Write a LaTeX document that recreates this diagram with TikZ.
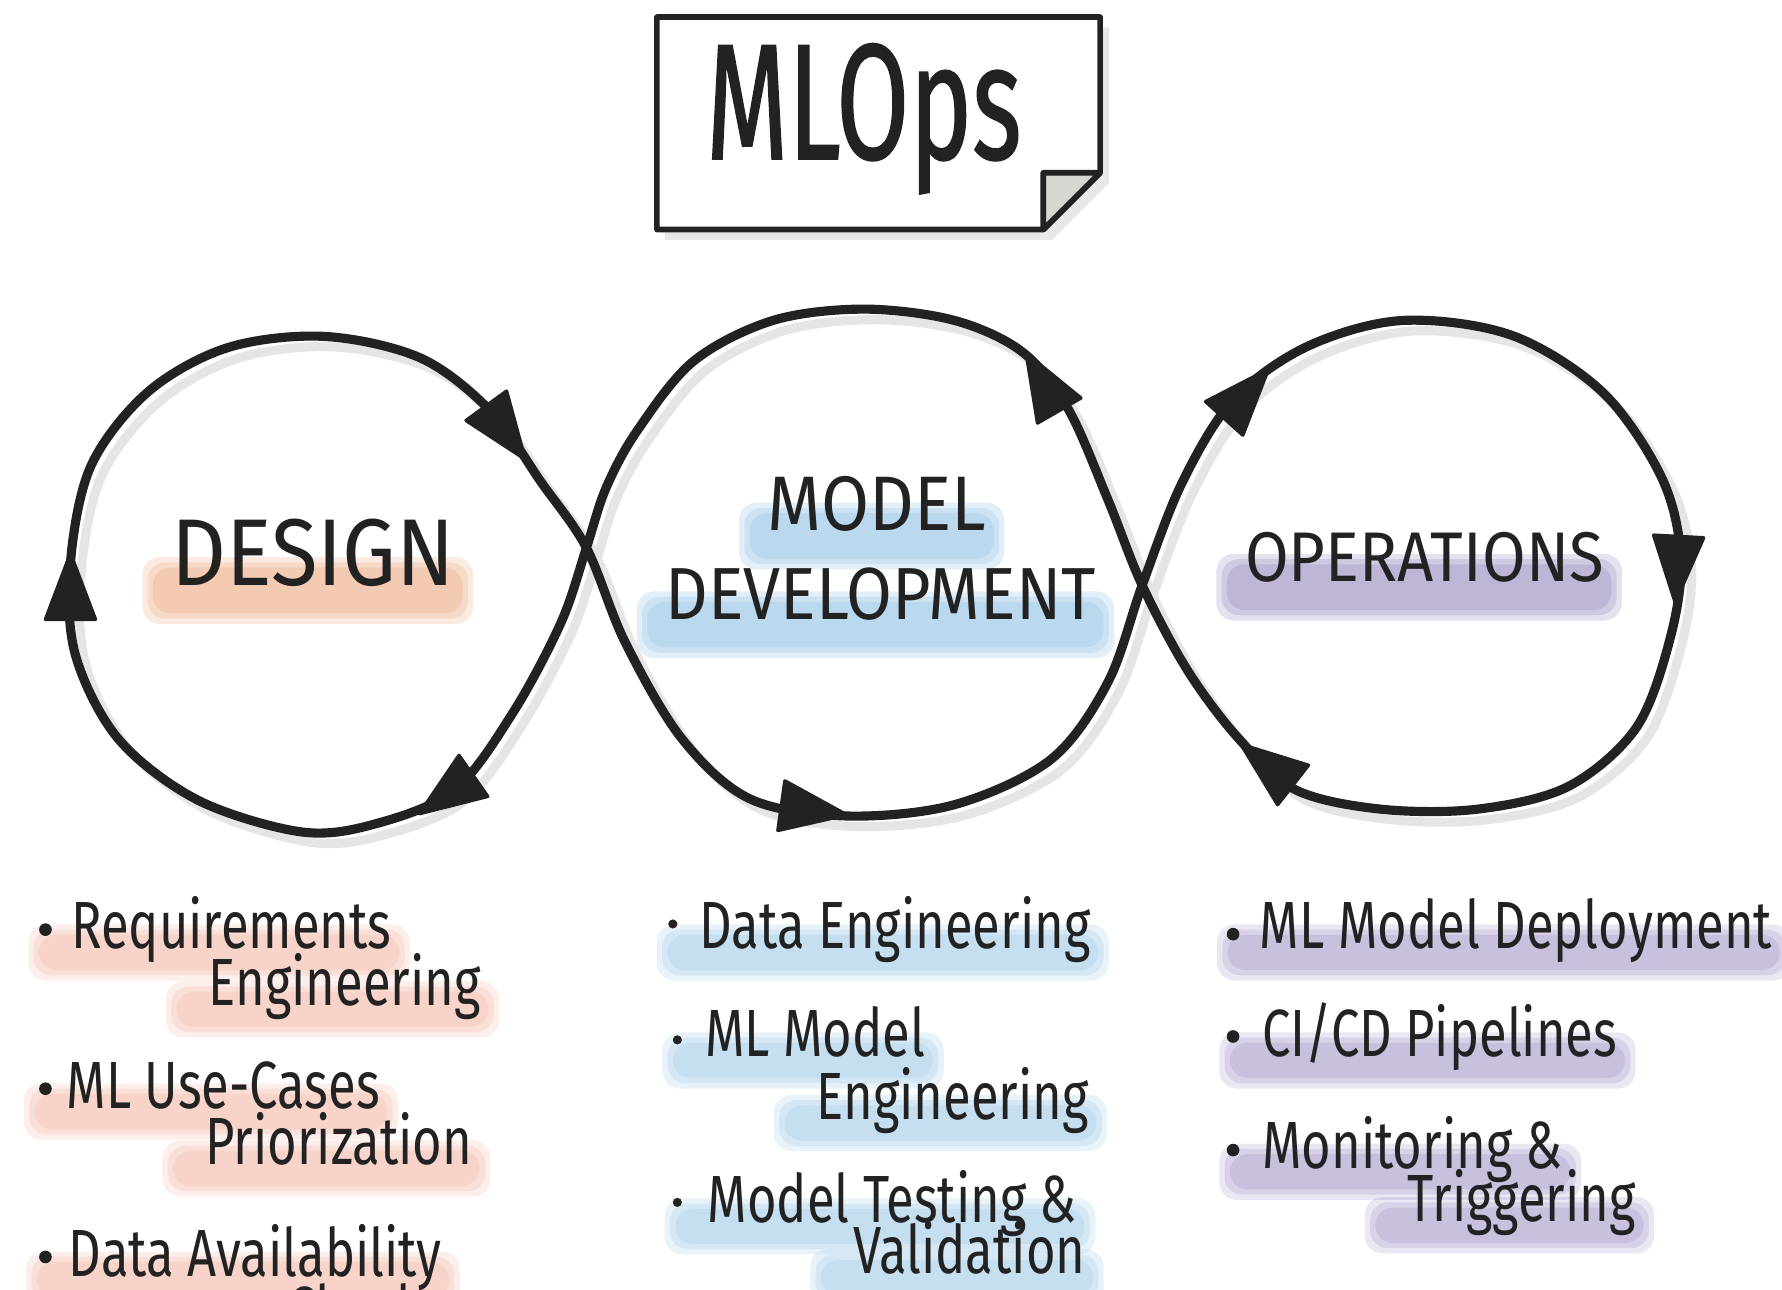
\documentclass[tikz,border=0pt]{standalone}
\usepackage{fontspec}
\setmainfont{Fira Sans}
\newfontfamily\handfont{Fira Sans}[FakeStretch=0.76]
\newfontfamily\capsfont{Fira Sans}[FakeStretch=0.9]
\newfontfamily\titlefont{Fira Sans}[FakeStretch=0.64, FakeBold=0.8]
\usetikzlibrary{backgrounds}

\definecolor{ink}{RGB}{34,34,34}
\definecolor{hlred}{RGB}{240,150,125}
\definecolor{hlorange}{RGB}{234,150,100}
\definecolor{hlblue}{RGB}{115,178,222}
\definecolor{hlpurple}{RGB}{125,105,175}
\definecolor{foldgray}{RGB}{214,214,210}

\tikzset{
  item/.style={anchor=base west, inner sep=0pt, text=ink, font=\handfont\fontsize{19}{22}\selectfont},
  head/.style={anchor=base west, inner sep=0pt, text=ink, font=\capsfont\fontsize{20}{24}\selectfont},
  loopline/.style={line width=2.6pt, line join=round, line cap=round},
}

\begin{document}
\begin{tikzpicture}[x=0.011365cm, y=-0.011365cm]
  \useasboundingbox (0,0) rectangle (1568,1135);
  % title card
  \fill[black!9] (585,24) -- (976,24) -- (976,161) -- (926,211) -- (585,211) -- cycle;
  \draw[ink, fill=white, line width=1.6pt, line join=round] (578,15) -- (968,15) -- (968,152) -- (918,202) -- (578,202) -- cycle;
  \filldraw[ink, fill=foldgray, line width=1.6pt, line join=round] (918,152) -- (968,152) -- (918,202) -- cycle;
  \node[text=ink, inner sep=0pt, anchor=base, font=\titlefont\fontsize{47}{50}\selectfont] (title) at (760,140) {MLOps};

  % figure of eight (shadow first)
  \foreach \c/\s in {black!10/3, ink/0}{
    \draw[loopline, draw=\c, xshift=\s pt, yshift=-\s pt] plot[smooth cycle, tension=0.55] coordinates {
      (516,482) (550,565) (600,650) (660,703) (745,718) (840,708) (925,668) (975,600)
      (1005,515) (1040,425) (1085,352) (1150,305) (1234,282) (1330,295) (1410,345) (1462,420)
      (1479,490) (1470,560) (1440,640) (1380,692) (1300,712) (1215,712) (1140,695) (1090,650) (1045,590)
      (1005,515) (975,440) (940,360) (900,310) (840,282) (760,272) (680,282) (610,318) (560,380) (533,430)
      (516,482) (494,547) (452,626) (400,695) (330,725) (265,732) (174,704) (104,650) (66,575)
      (62,495) (80,410) (130,345) (200,306) (285,296) (370,315) (432,362) (476,424)};
  }
  % arrow heads
  \foreach \x/\y/\a in {462/404/-54, 745/717/-8, 1116/325/48, 1474/530/-93,
                        1092/655/142, 903/311/120, 369/716/-145, 62/487/90}{
    \filldraw[ink, line width=1pt, line join=round, rotate around={\a:(\x,\y)}]
      (\x,\y) -- ++(-58,-22) -- ++(0,44) -- cycle;
  }

  % headings
  \node[head, font=\capsfont\fontsize{27}{30}\selectfont] (design) at (150,515) {DESIGN};
  \node[head, font=\capsfont\fontsize{22}{24}\selectfont] (model) at (675,467) {MODEL};
  \node[head, font=\capsfont\fontsize{21}{24}\selectfont] (devel) at (585,545) {DEVELOPMENT};
  \node[head] (ops) at (1095,512) {OPERATIONS};

  % design items
  \node[item] (req) at (62,835) {Requirements};
  \node[item] (reqb) at (183,885) {Engineering};
  \node[item] (usec) at (58,975) {ML Use-Cases};
  \node[item] (usecb) at (180,1025) {Priorization};
  \node[item] (avail) at (60,1123) {Data Availability};
  \node[item] (availb) at (252,1173) {Check};
  % model development items
  \node[item] (deng) at (615,835) {Data Engineering};
  \node[item] (mlm) at (620,930) {ML Model};
  \node[item] (mlmb) at (718,985) {Engineering};
  \node[item] (test) at (622,1076) {Model Testing \&};
  \node[item] (testb) at (750,1121) {Validation};
  % operations items
  \node[item] (depl) at (1108,835) {ML Model Deployment};
  \node[item] (cicd) at (1110,930) {CI/CD Pipelines};
  \node[item] (mon) at (1110,1028) {Monitoring \&};
  \node[item] (monb) at (1238,1075) {Triggering};

  % bullets
  \foreach \x/\y in {40/818, 40/958, 40/1106, 1085/822, 1085/912, 1085/1012}{
    \fill[ink] (\x,\y) circle (1.8pt);
  }
  \foreach \x/\y in {592/813, 596/915, 596/1058}{
    \fill[ink] (\x,\y) circle (1.3pt);
  }

  % marker highlights
  \begin{scope}[on background layer]
    \fill[white] (0,0) rectangle (1568,1135);
    \foreach \n/\c in {req/hlred, reqb/hlred, usec/hlred, usecb/hlred, avail/hlred, availb/hlred,
                       deng/hlblue, mlm/hlblue, mlmb/hlblue, test/hlblue, testb/hlblue,
                       depl/hlpurple, cicd/hlpurple, mon/hlpurple, monb/hlpurple}{
      \foreach \g in {0,1.5,3}{
        \fill[\c, opacity=0.16, rounded corners=5pt]
          ([xshift=-9pt-\g pt, yshift=-6pt-\g pt]\n.base west) rectangle ([xshift=2pt+\g pt, yshift=4pt+\g pt]\n.base east);
      }
    }
    \foreach \n/\c in {design/hlorange, model/hlblue, devel/hlblue, ops/hlpurple}{
      \foreach \g in {0,1.5,3}{
        \fill[\c, opacity=0.2, rounded corners=5pt]
          ([xshift=-5pt-\g pt, yshift=-8pt-\g pt]\n.base west) rectangle ([xshift=2pt+\g pt, yshift=5pt+\g pt]\n.base east);
      }
    }
  \end{scope}
\end{tikzpicture}
\end{document}
